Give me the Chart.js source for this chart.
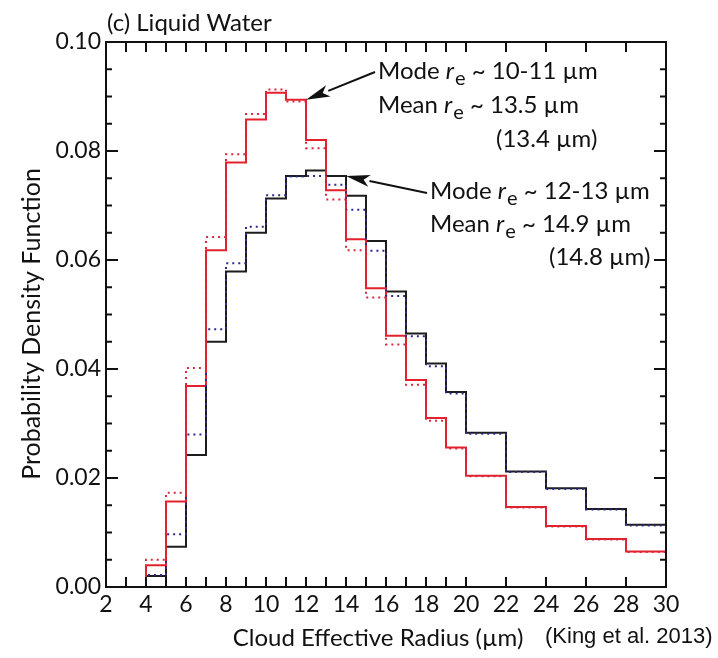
<!DOCTYPE html>
<html>
<head>
<meta charset="utf-8">
<script src="https://cdn.jsdelivr.net/npm/chart.js@4.4.0/dist/chart.umd.min.js"></script>
<style>
  body { margin: 0; background: #fff; }
  canvas { display: block; }
</style>
</head>
<body>
<canvas id="pdfChart" width="718" height="658"></canvas>
<script>
// bin edges in um: 1 um bins up to 20, then 2 um bins
const binEdges = [2, 3, 4, 5, 6, 7, 8, 9, 10, 11, 12, 13, 14, 15, 16, 17, 18, 19, 20, 22, 24, 26, 28, 30];

// pdf per bin (one value less than the edges)
const blackSolid = [0, 0, 0.0020, 0.0074, 0.0242, 0.0450, 0.0579, 0.0650, 0.0713, 0.0754, 0.0764, 0.0754, 0.0718, 0.0635, 0.0542, 0.0465, 0.0410, 0.0358, 0.0283, 0.0212, 0.0181, 0.0143, 0.0114];
const blueDotted = [0, 0, 0.0022, 0.0097, 0.0280, 0.0473, 0.0594, 0.0661, 0.0719, 0.0753, 0.0754, 0.0738, 0.0692, 0.0617, 0.0534, 0.0460, 0.0405, 0.0355, 0.0281, 0.0211, 0.0180, 0.0142, 0.0113];
const redSolid = [0, 0, 0.0040, 0.0157, 0.0369, 0.0618, 0.0779, 0.0858, 0.0907, 0.0894, 0.0820, 0.0728, 0.0638, 0.0548, 0.0461, 0.0380, 0.0310, 0.0256, 0.0204, 0.0147, 0.0112, 0.0088, 0.0065];
const redDotted = [0, 0, 0.0050, 0.0173, 0.0402, 0.0642, 0.0794, 0.0868, 0.0913, 0.0891, 0.0805, 0.0711, 0.0618, 0.0531, 0.0445, 0.0371, 0.0305, 0.0254, 0.0203, 0.0146, 0.0111, 0.0087, 0.0064];

const xTickLabels = [2, 4, 6, 8, 10, 12, 14, 16, 18, 20, 22, 24, 26, 28, 30];
const yTickLabels = [0, 0.02, 0.04, 0.06, 0.08, 0.10];
const yMinorTicks = [0.005, 0.01, 0.015, 0.025, 0.03, 0.035, 0.045, 0.05, 0.055, 0.065, 0.07, 0.075, 0.085, 0.09, 0.095];

const FONT = 'Lato, "Open Sans", sans-serif';

// histogram -> points for a stepped line
function toSteps(vals) {
  return binEdges.map((e, i) => ({ x: e, y: vals[Math.min(i, vals.length - 1)] }));
}

// r_e text with italic r and subscript e
function drawRe(ctx, x, y, pre, post, size) {
  ctx.font = size + 'px ' + FONT;
  ctx.fillText(pre, x, y);
  x += ctx.measureText(pre).width;
  ctx.font = 'italic ' + size + 'px ' + FONT;
  ctx.fillText('r', x, y);
  x += ctx.measureText('r').width + 1;
  ctx.font = Math.round(size * 0.85) + 'px ' + FONT;
  ctx.fillText('e', x, y + 8);
  x += ctx.measureText('e').width;
  ctx.font = size + 'px ' + FONT;
  ctx.fillText(post, x, y);
}

function arrow(ctx, x1, y1, x2, y2) {
  const ang = Math.atan2(y2 - y1, x2 - x1);
  const len = 24, half = 6;
  const bx = x2 - len * Math.cos(ang), by = y2 - len * Math.sin(ang);
  ctx.beginPath();
  ctx.moveTo(x1, y1);
  ctx.lineTo(bx, by);
  ctx.lineWidth = 2;
  ctx.strokeStyle = '#111';
  ctx.stroke();
  ctx.beginPath();
  ctx.moveTo(x2, y2);
  ctx.lineTo(bx - half * Math.sin(ang), by + half * Math.cos(ang));
  ctx.lineTo(bx + 6 * Math.cos(ang), by + 6 * Math.sin(ang));
  ctx.lineTo(bx + half * Math.sin(ang), by - half * Math.cos(ang));
  ctx.closePath();
  ctx.fillStyle = '#111';
  ctx.fill();
}

const framePlugin = {
  id: 'frame',
  afterDraw(chart) {
    const ctx = chart.ctx;
    const a = chart.chartArea;
    const xs = chart.scales.x, ys = chart.scales.y;
    ctx.save();
    ctx.strokeStyle = '#111';
    ctx.lineWidth = 2;
    ctx.strokeRect(a.left, a.top, a.right - a.left, a.bottom - a.top);

    // inward ticks
    ctx.beginPath();
    binEdges.forEach(v => {
      const px = xs.getPixelForValue(v);
      ctx.moveTo(px, a.bottom); ctx.lineTo(px, a.bottom - 10);
      ctx.moveTo(px, a.top); ctx.lineTo(px, a.top + 10);
    });
    yTickLabels.forEach(v => {
      const py = ys.getPixelForValue(v);
      ctx.moveTo(a.left, py); ctx.lineTo(a.left + 12, py);
      ctx.moveTo(a.right, py); ctx.lineTo(a.right - 12, py);
    });
    yMinorTicks.forEach(v => {
      const py = ys.getPixelForValue(v);
      ctx.moveTo(a.left, py); ctx.lineTo(a.left + 6, py);
      ctx.moveTo(a.right, py); ctx.lineTo(a.right - 6, py);
    });
    ctx.stroke();

    ctx.fillStyle = '#111';
    ctx.textBaseline = 'middle';

    // panel title
    ctx.textAlign = 'left';
    ctx.font = '24px ' + FONT;
    ctx.fillText('(c) Liquid Water', 107, 23);

    // axis titles
    ctx.textAlign = 'center';
    ctx.font = '24px ' + FONT;
    ctx.fillText('Cloud Effective Radius (\u00b5m)', 378, 638);
    ctx.save();
    ctx.translate(32, 324);
    ctx.rotate(-Math.PI / 2);
    ctx.font = '25px ' + FONT;
    ctx.fillText('Probability Density Function', 0, 0);
    ctx.restore();

    ctx.textAlign = 'left';
    ctx.font = '22px "Liberation Sans", Arial, sans-serif';
    ctx.fillText('(King et al. 2013)', 545, 637);

    // annotations
    arrow(ctx, 375, 72, xs.getPixelForValue(12), ys.getPixelForValue(redSolid[9]));
    arrow(ctx, 427, 193, xs.getPixelForValue(14), ys.getPixelForValue(blackSolid[11]));

    ctx.textAlign = 'left';
    drawRe(ctx, 378, 71, 'Mode ', ' ~ 10-11 \u00b5m', 24);
    drawRe(ctx, 378, 105, 'Mean ', ' ~ 13.5 \u00b5m', 24);
    ctx.font = '24px ' + FONT;
    ctx.fillText('(13.4 \u00b5m)', 496, 139);
    drawRe(ctx, 430, 191, 'Mode ', ' ~ 12-13 \u00b5m', 24);
    drawRe(ctx, 430, 224, 'Mean ', ' ~ 14.9 \u00b5m', 24);
    ctx.font = '24px ' + FONT;
    ctx.fillText('(14.8 \u00b5m)', 549, 257);
    ctx.restore();
  }
};

new Chart(document.getElementById('pdfChart'), {
  type: 'line',
  data: {
    datasets: [
      { label: 'black solid', data: toSteps(blackSolid), borderColor: '#1c1c1c', borderWidth: 2, stepped: 'before', order: 4 },
      { label: 'red solid', data: toSteps(redSolid), borderColor: '#e3202c', borderWidth: 2, stepped: 'before', order: 3 },
      { label: 'blue dotted', data: toSteps(blueDotted), borderColor: '#2a2a85', borderWidth: 2, borderDash: [2, 4], stepped: 'before', order: 2 },
      { label: 'red dotted', data: toSteps(redDotted), borderColor: '#d8283c', borderWidth: 2, borderDash: [2, 4], stepped: 'before', order: 1 }
    ]
  },
  options: {
    responsive: false,
    animation: false,
    layout: { padding: { top: 42, right: 52, left: 0, bottom: 0 } },
    elements: { point: { radius: 0 } },
    plugins: { legend: { display: false }, tooltip: { enabled: false } },
    scales: {
      x: {
        type: 'linear', min: 2, max: 30,
        afterBuildTicks: s => { s.ticks = xTickLabels.map(v => ({ value: v })); },
        grid: { display: false, drawTicks: false },
        border: { display: false },
        ticks: { font: { family: FONT, size: 23 }, color: '#111', padding: 4, maxRotation: 0, autoSkip: false },
        afterFit: s => { s.height = 71; }
      },
      y: {
        min: 0, max: 0.1,
        afterBuildTicks: s => { s.ticks = yTickLabels.map(v => ({ value: v })); },
        grid: { display: false, drawTicks: false },
        border: { display: false },
        ticks: { font: { family: FONT, size: 23 }, color: '#111', padding: 5, callback: v => v.toFixed(2) },
        afterFit: s => { s.width = 106; }
      }
    }
  },
  plugins: [framePlugin]
});
</script>
</body>
</html>
